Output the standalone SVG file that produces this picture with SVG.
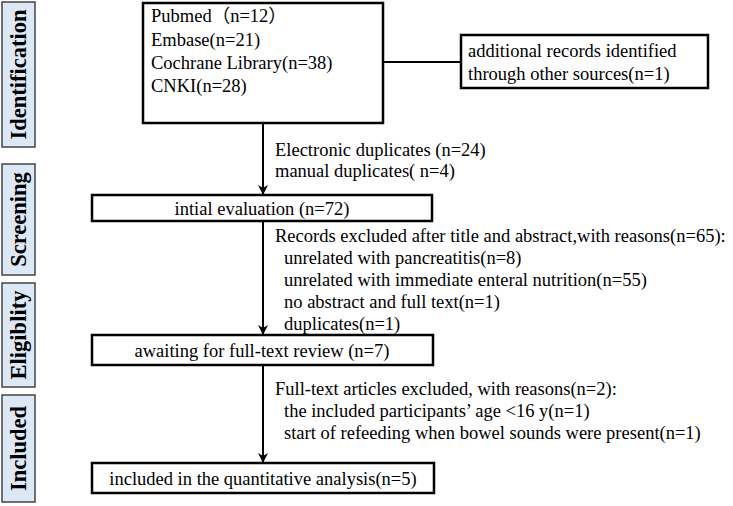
<svg xmlns="http://www.w3.org/2000/svg" width="733" height="506" viewBox="0 0 733 506">
<defs>
<marker id="ah" viewBox="0 0 10 10" refX="9" refY="5" markerWidth="10" markerHeight="10" markerUnits="userSpaceOnUse" orient="auto">
<path d="M0,0 L10,5 L0,10 L3,5 Z" fill="#000"/>
</marker>
<style>
.box{fill:#fff;stroke:#000;stroke-width:2.5}
.side{fill:#dde8f6;stroke:#444;stroke-width:1.5}
.t{font-family:"Liberation Serif","Times New Roman","Noto Sans CJK SC",serif;font-size:18.5px;fill:#000}
.c{text-anchor:middle}
.s{font-family:"Liberation Serif","Times New Roman",serif;font-size:22.5px;font-weight:bold;fill:#000;text-anchor:middle}
.ln{stroke:#000;stroke-width:2;fill:none}
</style>
</defs>
<rect width="733" height="506" fill="#fff"/>
<g id="phase-identification"><rect class="side" x="2" y="2" width="33" height="145"/><text class="s" transform="translate(25.5,74.5) rotate(-90)">Identification</text></g>
<g id="phase-screening"><rect class="side" x="2" y="164" width="33" height="111"/><text class="s" transform="translate(25.5,219.5) rotate(-90)">Screening</text></g>
<g id="phase-eligibility"><rect class="side" x="2" y="283" width="33" height="104"/><text class="s" transform="translate(25.5,335) rotate(-90)">Eligiblity</text></g>
<g id="phase-included"><rect class="side" x="2" y="395" width="33" height="107"/><text class="s" transform="translate(25.5,448.5) rotate(-90)">Included</text></g>
<g id="connectors">
<line class="ln" x1="383" y1="62" x2="461" y2="62"/>
<line class="ln" x1="263" y1="123" x2="263" y2="194" marker-end="url(#ah)"/>
<line class="ln" x1="263" y1="221" x2="263" y2="334" marker-end="url(#ah)"/>
<line class="ln" x1="263" y1="365" x2="263" y2="462" marker-end="url(#ah)"/>
</g>
<g id="sources"><rect class="box" x="143" y="3" width="240" height="120"/>
<text class="t" x="151" y="22">Pubmed（n=12）</text>
<text class="t" x="151" y="46">Embase(n=21)</text>
<text class="t" x="151" y="69">Cochrane Library(n=38)</text>
<text class="t" x="151" y="92">CNKI(n=28)</text></g>
<g id="additional"><rect class="box" x="461" y="35" width="247" height="53"/>
<text class="t" x="468" y="57">additional records identified</text>
<text class="t" x="468" y="80">through other sources(n=1)</text></g>
<g id="dup-note"><text class="t" x="275" y="156">Electronic duplicates (n=24)</text>
<text class="t" x="275" y="177">manual duplicates( n=4)</text></g>
<g id="initial"><rect class="box" x="92" y="195" width="340" height="26"/>
<text class="t c" x="262" y="215">intial evaluation (n=72)</text></g>
<g id="excl1"><text class="t" x="275" y="242">Records excluded after title and abstract,with reasons(n=65):</text>
<text class="t" x="284" y="264">unrelated with pancreatitis(n=8)</text>
<text class="t" x="284" y="286">unrelated with immediate enteral nutrition(n=55)</text>
<text class="t" x="284" y="308">no abstract and full text(n=1)</text>
<text class="t" x="284" y="330">duplicates(n=1)</text></g>
<g id="awaiting"><rect class="box" x="92" y="335" width="341" height="30"/>
<text class="t c" x="262" y="357">awaiting for full-text review (n=7)</text></g>
<g id="excl2"><text class="t" x="275" y="395">Full-text articles excluded, with reasons(n=2):</text>
<text class="t" x="284" y="417">the included participants’ age &lt;16 y(n=1)</text>
<text class="t" x="284" y="439">start of refeeding when bowel sounds were present(n=1)</text></g>
<g id="included"><rect class="box" x="92" y="463" width="342" height="30"/>
<text class="t c" x="263" y="485">included in the quantitative analysis(n=5)</text></g>
</svg>
